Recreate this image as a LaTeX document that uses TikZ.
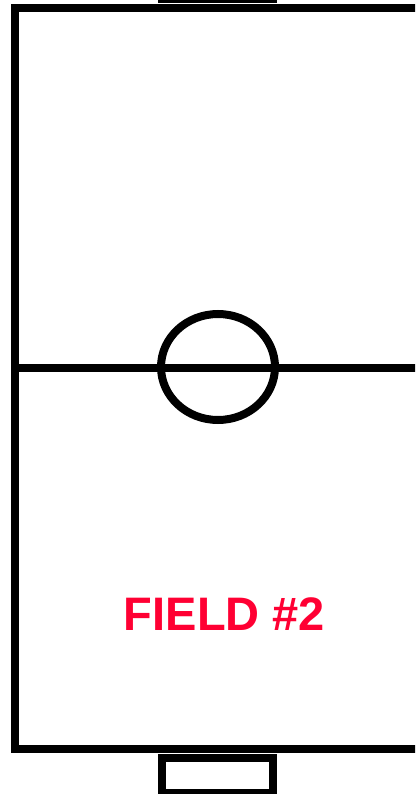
\documentclass[tikz,border=0pt]{standalone}
\usepackage{fontspec}
\setmainfont{Liberation Sans}
\definecolor{fieldred}{RGB}{255,0,51}
\begin{document}
\begin{tikzpicture}[x=1pt,y=-1pt,
  fieldline/.style={draw=black,line width=8pt},
  label/.style={text=fieldred,font=\bfseries\fontsize{47}{56}\selectfont,inner sep=0pt}]
\useasboundingbox (0,0) rectangle (415,794);
\clip (0,0) rectangle (415,794);
% field outline
\draw[fieldline] (440,8) -- (15,8) -- (15,749) -- (440,749);
% midline
\coordinate (mL) at (11,367.5);
\coordinate (mR) at (440,367.5);
\draw[fieldline] (mL) -- (mR);
% centre circle
\draw[fieldline] (218,367) ellipse [x radius=57, y radius=53];
% goals
\draw[fieldline] (162,-40) rectangle (273,-1);
\draw[fieldline] (162,757.5) rectangle (273,793);
% label
\node[label] (lbl) at (224.5,614) {FIELD \#2};
\end{tikzpicture}
\end{document}
